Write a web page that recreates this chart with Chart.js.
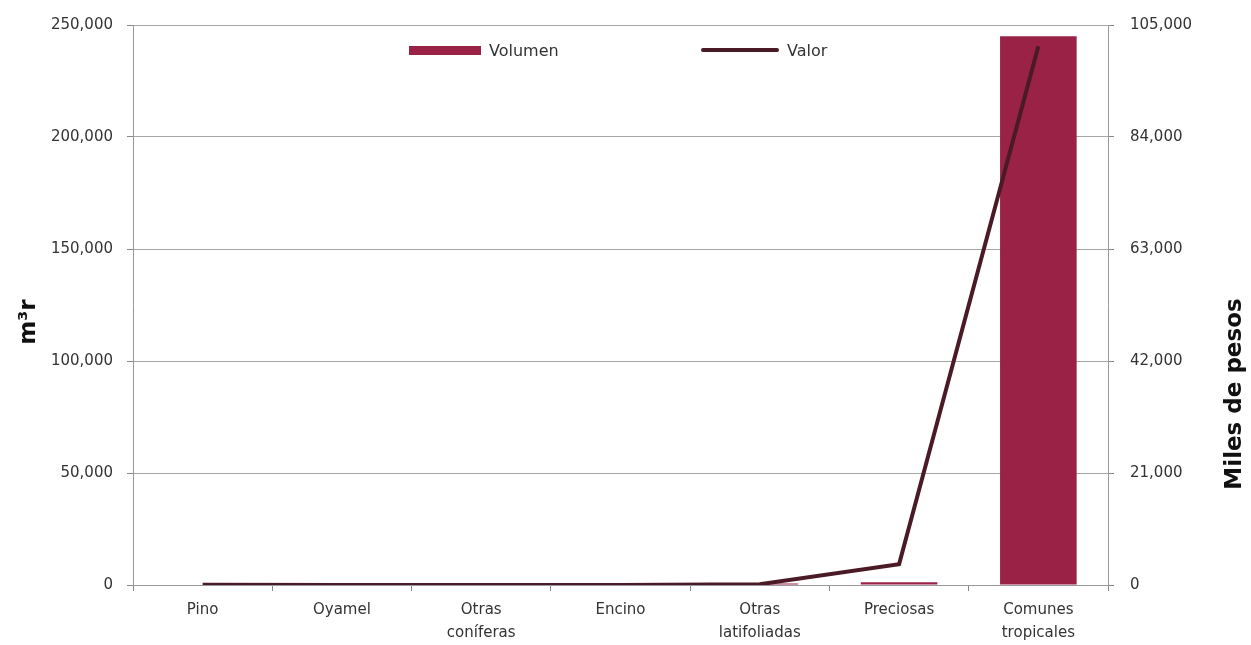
<!DOCTYPE html>
<html>
<head>
<meta charset="utf-8">
<script src="https://cdn.jsdelivr.net/npm/chart.js@4.4.1/dist/chart.umd.min.js"></script>
<style>
  html, body { margin: 0; padding: 0; background: #fff; }
  #wrap { position: relative; width: 1251px; height: 645px; }
  #legend { position: absolute; top: 38px; left: 409px; font-family: "DejaVu Sans", sans-serif; font-size: 16px; color: #333; }
  .item { position: absolute; top: 0; white-space: nowrap; display: flex; align-items: center; height: 24px; }
  .swatch { display: inline-block; margin-right: 8px; }
</style>
</head>
<body>
<div id="wrap">
  <canvas id="chart" width="1251" height="645"></canvas>
  <div id="legend">
    <div class="item" style="left:0"><span class="swatch" style="width:72px;height:9px;background:#9b2247"></span>Volumen</div>
    <div class="item" style="left:292px"><span class="swatch" style="width:78px;height:4px;background:#4a1a26;border-radius:2px"></span>Valor</div>
  </div>
</div>
<script>
const categories = [['Pino'], ['Oyamel'], ['Otras', 'coníferas'], ['Encino'], ['Otras', 'latifoliadas'], ['Preciosas'], ['Comunes', 'tropicales']];
const volumen = [180, 120, 90, 70, 700, 1200, 245000];
const valor = [30, 20, 15, 10, 150, 3900, 101000];

const tickFont = { family: 'DejaVu Sans', size: 15 };
const fmt = v => v.toLocaleString('en-US');

// both axis titles read bottom-to-top, sitting a bit below the middle
const axisTitles = {
  id: 'axisTitles',
  afterDraw(chart) {
    const ctx = chart.ctx;
    const area = chart.chartArea;
    ctx.save();
    ctx.fillStyle = '#111';
    ctx.font = 'bold 23px "DejaVu Sans"';
    ctx.textAlign = 'center';
    ctx.textBaseline = 'middle';
    [['m³r', 29, area.top + 297], ['Miles de pesos', 1235, area.top + 369]].forEach(([txt, x, y]) => {
      ctx.save();
      ctx.translate(x, y);
      ctx.rotate(-Math.PI / 2);
      ctx.fillText(txt, 0, 0);
      ctx.restore();
    });
    ctx.restore();
  }
};

new Chart(document.getElementById('chart'), {
  data: {
    labels: categories,
    datasets: [
      {
        type: 'line',
        label: 'Valor',
        data: valor,
        yAxisID: 'y1',
        borderColor: '#4a1a26',
        borderWidth: 4,
        pointRadius: 0,
        tension: 0,
        order: 0
      },
      {
        type: 'bar',
        label: 'Volumen',
        data: volumen,
        yAxisID: 'y',
        backgroundColor: '#9b2247',
        categoryPercentage: 1,
        barPercentage: 0.55,
        order: 1
      }
    ]
  },
  options: {
    responsive: false,
    animation: false,
    layout: { padding: { top: 25, left: 0, right: 0, bottom: 0 } },
    plugins: { legend: { display: false }, tooltip: { enabled: false } },
    scales: {
      x: {
        offset: true,
        grid: { offset: true, drawOnChartArea: false, drawTicks: true, tickLength: 6, color: '#888' },
        border: { color: '#999', width: 1 },
        ticks: { font: { family: 'DejaVu Sans', size: 15, lineHeight: 1.5 }, color: '#333', padding: 8, maxRotation: 0, autoSkip: false },
        afterFit: s => { s.height = 60; }
      },
      y: {
        position: 'left',
        min: 0,
        max: 250000,
        grid: { color: '#a6a6a6', tickLength: 6, tickColor: '#888' },
        border: { color: '#999', width: 1 },
        ticks: { stepSize: 50000, font: tickFont, color: '#333', padding: 14, callback: v => fmt(v) },
        afterFit: s => { s.width = 133; }
      },
      y1: {
        position: 'right',
        min: 0,
        max: 105000,
        grid: { drawOnChartArea: false, tickLength: 6, tickColor: '#888' },
        border: { color: '#999', width: 1 },
        ticks: { stepSize: 21000, font: tickFont, color: '#333', padding: 16, callback: v => fmt(v) },
        afterFit: s => { s.width = 143; }
      }
    }
  },
  plugins: [axisTitles]
});
</script>
</body>
</html>
